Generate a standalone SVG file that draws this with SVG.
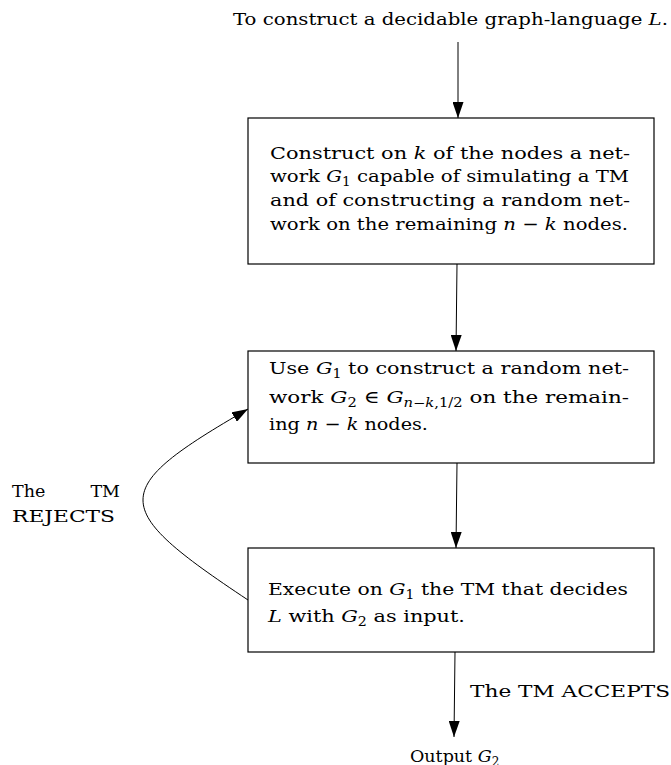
<svg xmlns="http://www.w3.org/2000/svg" width="671" height="765" viewBox="0 0 671 765">
<style>
  text { font-family: "DejaVu Serif", "Liberation Serif", serif; font-size: 17.5px; fill: #000; }
  .m { font-style: italic; }
  .sub { font-size: 12px; }
  .box { fill: #fff; stroke: #000; stroke-width: 1.2; }
  .edge { fill: none; stroke: #000; stroke-width: 1; }
</style>
<defs>
  <marker id="ah" markerUnits="userSpaceOnUse" markerWidth="16" markerHeight="11" refX="16" refY="5.5" orient="auto">
    <path d="M0,0 L16,5.5 L0,11 z" fill="#000"/>
  </marker>
</defs>

<g id="start">
  <text x="233" y="25" textLength="435" lengthAdjust="spacingAndGlyphs">To construct a decidable graph-language <tspan class="m">L</tspan>.</text>
</g>

<g id="box1">
  <rect class="box" x="248" y="118" width="406" height="146"/>
  <text x="270" y="159" textLength="360" lengthAdjust="spacingAndGlyphs">Construct on <tspan class="m">k</tspan> of the nodes a net-</text>
  <text x="270" y="182" textLength="359" lengthAdjust="spacingAndGlyphs">work <tspan class="m">G</tspan><tspan class="sub" dy="4">1</tspan><tspan dy="-4"> capable of simulating a TM</tspan></text>
  <text x="270" y="206" textLength="360" lengthAdjust="spacingAndGlyphs">and of constructing a random net-</text>
  <text x="270" y="230" textLength="358" lengthAdjust="spacingAndGlyphs">work on the remaining <tspan class="m">n</tspan> − <tspan class="m">k</tspan> nodes.</text>
</g>

<g id="box2">
  <rect class="box" x="248" y="351" width="406" height="112"/>
  <text x="269" y="374" textLength="360" lengthAdjust="spacingAndGlyphs">Use <tspan class="m">G</tspan><tspan class="sub" dy="4">1</tspan><tspan dy="-4"> to construct a random net-</tspan></text>
  <text x="269" y="403" textLength="360" lengthAdjust="spacingAndGlyphs">work <tspan class="m">G</tspan><tspan class="sub" dy="4">2</tspan><tspan dy="-4"> ∈ </tspan><tspan class="m">G</tspan><tspan class="sub" dy="4"><tspan class="m">n</tspan>−<tspan class="m">k</tspan>,1/2</tspan><tspan dy="-4"> on the remain-</tspan></text>
  <text x="269" y="430" textLength="159" lengthAdjust="spacingAndGlyphs">ing <tspan class="m">n</tspan> − <tspan class="m">k</tspan> nodes.</text>
</g>

<g id="box3">
  <rect class="box" x="248" y="548" width="406" height="104"/>
  <text x="268" y="595" textLength="360" lengthAdjust="spacingAndGlyphs">Execute on <tspan class="m">G</tspan><tspan class="sub" dy="4">1</tspan><tspan dy="-4"> the TM that decides</tspan></text>
  <text x="268" y="622" textLength="197" lengthAdjust="spacingAndGlyphs"><tspan class="m">L</tspan> with <tspan class="m">G</tspan><tspan class="sub" dy="4">2</tspan><tspan dy="-4"> as input.</tspan></text>
</g>

<g id="output">
  <text x="410" y="762">Output <tspan class="m">G</tspan><tspan class="sub" dy="4">2</tspan></text>
</g>

<g id="connectors">
  <path class="edge" d="M458,42 L458,118" marker-end="url(#ah)"/>
  <path class="edge" d="M457,264 L456,351" marker-end="url(#ah)"/>
  <path class="edge" d="M457,463 L456,548" marker-end="url(#ah)"/>
  <path class="edge" d="M455,652 L454,737" marker-end="url(#ah)"/>
  <path class="edge" d="M248,600 C108,507 108,490 248,409" marker-end="url(#ah)"/>
  <text x="470" y="697" textLength="200" lengthAdjust="spacingAndGlyphs">The TM ACCEPTS</text>
  <text x="12" y="497">The</text>
  <text x="120" y="497" text-anchor="end">TM</text>
  <text x="12" y="522" textLength="103" lengthAdjust="spacingAndGlyphs">REJECTS</text>
</g>
</svg>
